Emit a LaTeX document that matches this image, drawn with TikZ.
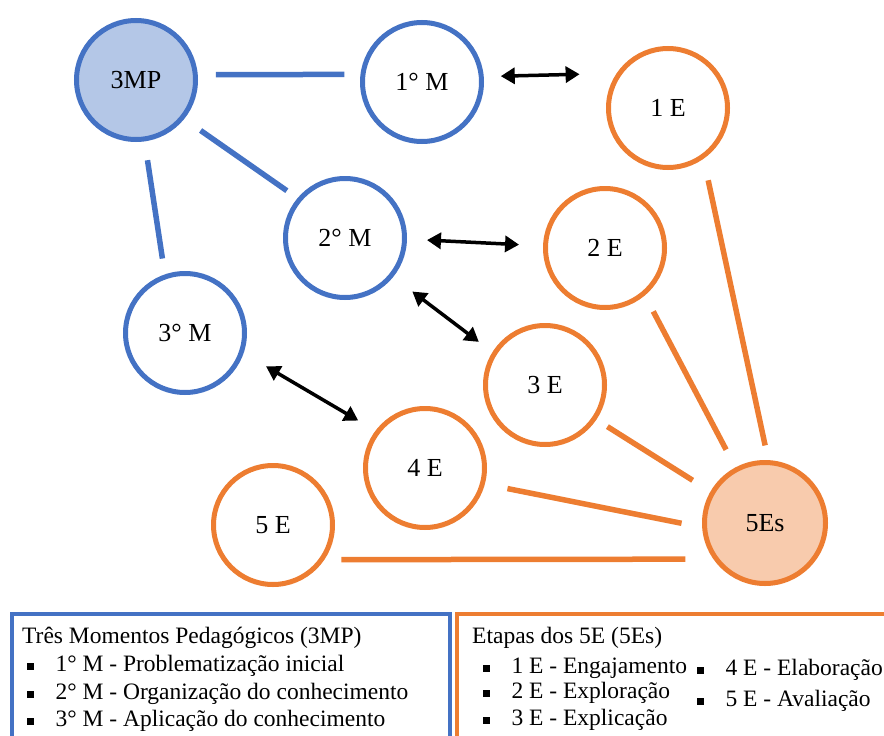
\documentclass[tikz,border=0pt]{standalone}
\usepackage{fontspec}
\setmainfont{Liberation Serif}
\usepackage{tikz}
\usetikzlibrary{arrows.meta,calc,positioning}

\definecolor{mpblue}{RGB}{68,114,196}
\definecolor{mpfill}{RGB}{180,199,231}
\definecolor{eorange}{RGB}{237,125,49}
\definecolor{efill}{RGB}{248,203,173}
\newcommand{\sqb}{\rule[0.06em]{0.27em}{0.3em}\hspace{22pt}}

\begin{document}
\begin{tikzpicture}[x=1pt, y=-1pt,
					mcirc/.style={circle, draw=mpblue, line width=5pt, minimum size=119pt, inner sep=0pt,
						font=\fontsize{26}{30}\selectfont},
					ecirc/.style={circle, draw=eorange, line width=5pt, minimum size=119pt, inner sep=0pt,
						font=\fontsize{26}{30}\selectfont},
					mlink/.style={draw=mpblue, line width=5.5pt, shorten <=18pt, shorten >=16pt},
					elink/.style={draw=eorange, line width=5.5pt, shorten <=18pt, shorten >=18pt},
					dbl/.style={{Triangle[length=14pt,width=16pt]}-{Triangle[length=14pt,width=16pt]}, line width=3.5pt},
					legbox/.style={line width=4pt, anchor=north west, minimum height=170pt, inner sep=0pt},
					legtext/.style={anchor=base west, inner sep=0pt, font=\fontsize{23.5}{28}\selectfont}
				]
				\useasboundingbox (0,0) rectangle (884,736);
				\clip (0,0) rectangle (884,736);

				\node[mcirc, fill=mpfill] (mp) at (136,80) {3MP};
				\node[mcirc] (m1) at (422,82) {1° M};
				\node[mcirc] (m2) at (345,238) {2° M};
				\node[mcirc] (m3) at (185,333) {3° M};
				\node[ecirc, fill=efill, minimum size=121pt] (es) at (765,523) {5Es};
				\node[ecirc] (e1) at (668,108) {1 E};
				\node[ecirc] (e2) at (605,248) {2 E};
				\node[ecirc] (e3) at (545,385) {3 E};
				\node[ecirc] (e4) at (425,468) {4 E};
				\node[ecirc] (e5) at (273,525) {5 E};

				\draw[mlink] (mp.5) -- (m1.173);
				\draw[mlink, shorten <=20pt, shorten >=13pt] (mp.-39) -- (m2.140);
				\draw[mlink, shorten <=19pt] (mp.-82) -- (m3.109);

				\draw[elink, shorten <=22pt, shorten >=15pt] (e1.-55) -- (es.87);
				\draw[elink, shorten >=20pt] (e2.-50) -- (es.118);
				\draw[elink, shorten <=13pt, shorten >=21pt] (e3.-34) -- (es.150);
				\draw[elink, shorten <=23pt, shorten >=21pt] (e4.-15) -- (es.184);
				\draw[elink, shorten <=17pt, shorten >=28pt] (e5.-34) -- (es.215);

				\draw[dbl, shorten <=17pt, shorten >=37pt] (m1.5) -- (e1.146);
				\draw[dbl, shorten <=20pt, shorten >=24pt] (m2.-1) -- (e2.178);
				\draw[dbl, shorten <=24pt, shorten >=17pt] (m2.-39) -- (e3.148);
				\draw[dbl, shorten <=26pt, shorten >=20pt] (m3.-19) -- (e4.143);

				\node[legbox, draw=mpblue, minimum width=438pt] (box3mp) at (10,612) {};
				\node[legbox, draw=eorange, minimum width=460pt] (box5e) at (455,612) {};

				\node[legtext] (t3mp) at (22,643) {Três Momentos Pedagógicos (3MP)};
				\node[legtext] (t1m) at (27,671) {\sqb 1° M - Problematização inicial};
				\node[legtext] (t2m) at (27,699) {\sqb 2° M - Organização do conhecimento};
				\node[legtext] (t3m) at (27,726) {\sqb 3° M - Aplicação do conhecimento};

				\node[legtext] (t5e) at (472,643) {Etapas dos 5E (5Es)};
				\node[legtext] (t1e) at (483,673) {\sqb 1 E - Engajamento};
				\node[legtext] (t2e) at (483,698) {\sqb 2 E - Exploração};
				\node[legtext] (t3e) at (483,725) {\sqb 3 E - Explicação};
				\node[legtext] (t4e) at (697,675) {\sqb 4 E - Elaboração};
				\node[legtext] (t5ee) at (697,706) {\sqb 5 E - Avaliação};
			\end{tikzpicture}
\end{document}
